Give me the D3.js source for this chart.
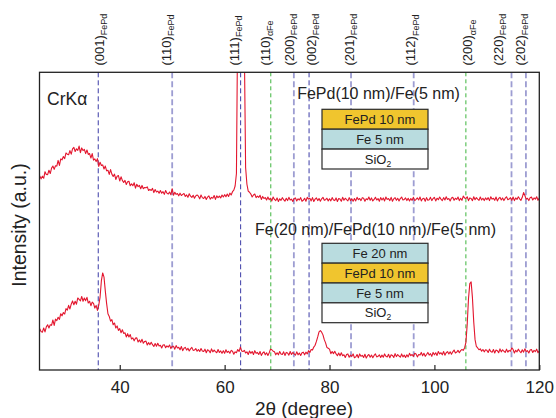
<!DOCTYPE html>
<html><head><meta charset="utf-8">
<script src="https://cdn.jsdelivr.net/npm/d3@7"></script>
<style>
body{margin:0;background:#fff;}
svg{display:block;font-family:"Liberation Sans",Arial,Helvetica,sans-serif;}
</style>
</head><body>
<svg id="chart" width="556" height="418"></svg>
<script>
// ---------- DATA ----------
const scanStart = 24.75;   // first 2θ of the scan (degree)
const scanStep = 0.25;     // 2θ step of the scan (degree)

// FePd(10 nm)/Fe(5 nm) — intensity, a.u. (offset trace)
const topValues = [
 65.2,64.2,65.1,64.4,66.6,65.7,65.6,67.1,66.0,67.8,68.5,67.4,68.6,68.5,70.4,68.7,70.9,70.6,71.7,71.0,72.9,
 72.5,72.3,73.7,72.5,74.3,74.8,73.4,74.3,73.8,75.2,73.0,74.6,73.7,74.1,72.7,73.9,72.4,72.7,71.2,72.7,
 70.5,70.9,70.0,71.0,68.4,69.8,68.7,68.9,67.5,68.5,66.9,67.1,65.7,67.3,65.8,65.0,65.8,64.0,65.1,65.3,
 63.5,64.9,63.7,63.0,63.7,62.3,63.2,63.4,61.9,62.5,61.9,62.9,61.1,62.4,61.6,62.0,60.9,62.0,60.9,61.3,
 61.2,61.5,60.3,60.7,60.3,61.0,59.6,60.6,59.8,60.1,59.4,60.3,59.4,59.9,59.0,60.3,59.4,59.1,59.8,58.9,
 60.9,58.7,59.7,59.0,59.3,58.5,59.4,58.6,59.0,59.3,58.3,58.8,58.0,59.2,58.4,58.0,58.7,57.7,58.5,58.8,
 58.4,57.5,58.8,57.9,57.6,58.3,57.3,58.1,58.5,57.4,58.0,57.7,58.6,57.3,58.5,57.9,58.4,57.8,58.8,58.1,
 58.9,58.2,59.1,58.3,59.4,58.8,59.9,60.4,61.8,66.0,120,200,212,203,168,110,68.0,62.4,60.1,59.7,
 59.1,58.1,58.8,59.1,57.9,58.4,58.0,58.7,57.3,58.3,57.6,57.9,57.1,58.1,57.2,57.7,56.8,58.1,57.3,56.9,
 57.8,56.6,57.5,57.0,57.9,57.2,56.7,57.7,56.9,58.0,57.1,57.4,56.6,57.6,57.8,56.8,57.5,57.1,57.9,56.7,
 57.0,57.7,56.7,58.0,57.4,57.7,56.8,57.9,56.6,57.4,57.8,56.9,57.6,56.7,57.5,58.0,57.0,57.2,57.7,56.8,
 57.5,56.8,57.9,57.1,56.9,57.8,56.6,57.6,57.4,56.7,58.0,57.0,57.7,57.2,56.8,57.9,56.9,57.5,56.7,57.6,
 56.8,58.0,57.2,57.6,56.9,57.9,57.7,56.7,57.5,57.2,58.1,57.0,57.8,56.8,57.3,58.0,57.1,57.6,56.7,57.9,
 57.1,57.8,56.8,58.1,57.3,57.6,56.9,58.0,56.7,57.5,57.9,57.0,57.7,56.8,57.6,58.1,57.1,57.3,57.8,56.9,
 57.7,56.8,57.6,57.0,58.0,56.9,57.3,57.8,57.1,58.1,56.8,57.5,57.7,56.7,57.9,57.0,57.2,58.0,56.9,57.6,
 58.0,56.8,57.7,57.2,58.1,57.4,56.9,57.9,57.1,58.2,57.3,57.6,56.8,57.8,58.0,57.0,57.7,57.3,58.1,56.9,
 57.7,57.0,58.4,57.8,57.6,58.2,56.9,57.8,57.6,56.9,58.2,57.2,57.9,57.4,57.0,58.1,57.1,57.7,56.9,57.8,
 57.2,57.9,56.9,58.2,57.4,57.7,57.0,58.1,56.8,57.6,58.0,57.1,57.8,56.9,57.7,58.2,57.2,57.4,57.9,57.0,
 58.1,56.9,57.8,57.3,58.2,57.5,57.0,58.0,59.6,58.6,57.4,57.7,56.9,57.9,58.1,57.1,57.8,57.4,58.2,57.0,
 57.8
];

// Fe(20 nm)/FePd(10 nm)/Fe(5 nm) — intensity, a.u.
const bottomValues = [
 13.9,12.9,12.7,14.1,12.8,14.5,15.2,14.1,15.2,15.0,16.8,15.0,17.1,16.6,17.7,17.0,18.9,18.2,19.3,18.8,20.6,
 20.1,21.7,20.5,22.1,23.2,21.9,23.1,22.1,24.2,23.7,23.2,24.7,23.1,24.2,23.3,24.4,22.5,23.1,21.6,22.8,
 22.4,20.8,21.7,20.0,21.8,24.5,30.0,32.6,31.2,26.5,22.3,18.9,18.0,16.4,16.9,15.2,15.8,14.1,14.8,13.3,
 13.9,12.5,13.5,12.3,12.5,11.1,12.2,11.1,11.9,10.4,10.8,9.8,10.7,10.8,9.4,10.1,9.3,10.3,9.0,9.6,
 9.7,8.4,9.2,8.5,9.3,8.5,7.9,8.9,8.0,9.0,8.1,8.3,7.4,8.4,8.5,7.5,8.1,7.7,8.4,7.2,
 8.0,8.0,7.0,8.2,7.4,7.6,6.8,7.9,6.5,7.3,7.6,6.7,7.3,6.4,7.1,7.6,6.6,6.7,7.2,6.3,
 6.9,6.2,7.2,6.4,6.2,7.0,5.8,6.8,6.5,5.8,7.1,6.1,6.7,6.2,5.8,6.9,5.9,6.4,5.6,6.5,
 5.6,6.8,5.9,6.3,5.6,6.6,6.3,5.3,6.1,5.8,6.9,6.2,7.7,6.4,6.2,6.6,5.7,6.1,5.2,6.4,
 5.6,6.2,5.2,6.5,5.6,5.9,5.2,6.2,4.9,5.7,6.1,5.1,5.8,4.9,5.8,7.0,6.8,6.3,6.1,5.1,
 5.8,5.1,6.2,5.4,5.2,6.1,4.9,5.9,5.7,5.0,6.2,5.2,5.9,5.4,5.0,6.1,5.1,5.7,4.9,5.8,
 6.0,5.1,6.0,5.4,6.5,5.9,6.9,6.7,7.7,8.3,9.6,11.1,12.8,13.2,12.7,11.8,10.2,9.1,7.6,7.3,
 7.0,5.5,6.2,5.5,6.3,5.4,4.8,5.7,4.8,5.8,4.8,5.1,4.2,5.2,5.4,4.3,5.0,4.6,5.4,4.1,
 4.4,5.2,4.1,5.4,4.6,4.9,4.2,5.3,4.0,4.8,5.2,4.3,5.0,4.1,4.9,5.4,4.4,4.6,5.1,4.2,
 5.0,4.3,5.4,4.6,4.4,5.3,4.1,5.1,4.9,4.2,5.5,4.5,5.2,4.7,4.3,5.4,4.4,5.0,4.2,5.1,
 4.4,5.6,4.8,5.2,4.6,5.6,5.4,4.4,5.2,5.0,5.9,4.8,5.6,4.6,5.2,5.9,5.0,5.5,4.6,5.9,
 5.1,5.8,4.9,6.2,5.4,5.8,5.1,6.2,5.0,5.8,6.2,5.4,6.1,5.3,6.1,6.7,5.7,6.0,6.6,5.8,
 6.5,6.9,6.6,7.4,9.2,15.2,24.0,29.0,29.6,24.3,16.1,10.2,7.9,7.4,6.8,7.1,6.3,6.9,6.1,6.8,
 6.6,5.9,7.0,6.2,6.0,6.9,5.7,6.7,6.5,5.8,7.1,6.1,6.8,6.3,5.9,7.0,6.0,6.6,6.3,7.4,
 6.9,5.7,6.6,6.1,7.0,6.3,5.8,6.8,6.0,7.1,6.2,6.5,5.7,6.7,6.9,5.9,6.6,6.2,7.0,5.8,
 6.4
];

// Reference reflections
const refIndex   = ["(001)","(110)","(111)","(110)","(200)","(002)","(201)","(112)","(200)","(220)","(202)"];
const refPhase   = ["FePd","FePd","FePd","αFe","FePd","FePd","FePd","FePd","αFe","FePd","FePd"];
const refTheta   = [35.9, 50.0, 63.05, 68.8, 73.2, 76.1, 84.1, 96.05, 106.0, 114.7, 117.45];
const refKind    = ["dark","light","dark","green","light","dark","light","light","green","light","light"];
const labelTheta = [36.33, 49.01, 61.97, 67.88, 72.55, 76.65, 84.0, 95.66, 106.53, 112.4, 116.56];

const xTicks = [40, 60, 80, 100, 120];
const xDomain = [24.7, 120];
const yDomain = [0, 100];

const stack1Names = ["FePd 10 nm", "Fe 5 nm", "SiO"];
const stack1Mats  = ["FePd", "Fe", "SiO2"];
const stack2Names = ["Fe 20 nm", "FePd 10 nm", "Fe 5 nm", "SiO"];
const stack2Mats  = ["Fe", "FePd", "Fe", "SiO2"];
const sample1Title = "FePd(10 nm)/Fe(5 nm)";
const sample2Title = "Fe(20 nm)/FePd(10 nm)/Fe(5 nm)";

// ---------- DRAW ----------
const svg = d3.select("#chart");
const L = 39.5, R = 539.3, T = 72.3, B = 370;
const x = d3.scaleLinear().domain(xDomain).range([L, R]);
const y = d3.scaleLinear().domain(yDomain).range([B, T]);
const ink = "#222";

svg.append("defs").append("clipPath").attr("id","plotclip")
  .append("rect").attr("x",L).attr("y",T).attr("width",R-L).attr("height",B-T);

// reference lines
const kindStyle = {
  dark:  {stroke:"#3b3ba6", width:1.0, dash:"5,3"},
  light: {stroke:"#9d9dd2", width:1.8, dash:"6,3"},
  green: {stroke:"#3cb43c", width:1.0, dash:"4,3"}
};
svg.append("g").selectAll("line").data(refTheta).join("line")
  .attr("x1", d=>x(d)).attr("x2", d=>x(d))
  .attr("y1", T).attr("y2", B)
  .attr("stroke", (d,i)=>kindStyle[refKind[i]].stroke)
  .attr("stroke-width", (d,i)=>kindStyle[refKind[i]].width)
  .attr("stroke-dasharray", (d,i)=>kindStyle[refKind[i]].dash);

// traces
const line = d3.line().x((d,i)=>x(scanStart + i*scanStep)).y(d=>y(d));
const traces = svg.append("g").attr("clip-path","url(#plotclip)");
[topValues, bottomValues].forEach(vals=>{
  traces.append("path").attr("d", line(vals))
    .attr("fill","none").attr("stroke","#e3162e").attr("stroke-width",1.1)
    .attr("stroke-linejoin","round");
});

// frame
svg.append("rect").attr("x",L).attr("y",T).attr("width",R-L).attr("height",B-T)
  .attr("fill","none").attr("stroke",ink).attr("stroke-width",1.3);

// x axis
const xAxis = svg.append("g").attr("transform",`translate(0,${B})`)
  .call(d3.axisBottom(x).tickValues(xTicks).tickSize(-5).tickPadding(11).tickFormat(d3.format("d")));
xAxis.select(".domain").remove();
xAxis.selectAll(".tick line").attr("stroke",ink).attr("stroke-width",1.2);
xAxis.selectAll(".tick text").attr("fill",ink).attr("font-size",17).attr("font-family",null);

// axis titles
svg.append("text").attr("x",304).attr("y",414.5).attr("text-anchor","middle")
  .attr("font-size",19).attr("fill",ink).text("2θ (degree)");
svg.append("text").attr("transform","translate(26,225) rotate(-90)").attr("text-anchor","middle")
  .attr("font-size",19.5).attr("fill",ink).text("Intensity (a.u.)");

// reflection labels
const lab = svg.append("g").selectAll("text").data(refIndex).join("text")
  .attr("transform",(d,i)=>`translate(${x(labelTheta[i])},65.5) rotate(-90)`)
  .attr("y","0.28em").attr("font-size",13).attr("fill",ink);
lab.append("tspan").text(d=>d);
lab.append("tspan").attr("dy",3.3).attr("font-size",9).text((d,i)=>refPhase[i]);

// CrKα
svg.append("text").attr("x",47).attr("y",105).attr("font-size",17.5).attr("fill",ink).text("CrKα");

// sample titles
svg.append("text").attr("x",378.5).attr("y",99.3).attr("text-anchor","middle")
  .attr("font-size",16).attr("fill",ink).text(sample1Title);
svg.append("text").attr("x",375.5).attr("y",235).attr("text-anchor","middle")
  .attr("font-size",16).attr("fill",ink).text(sample2Title);

// layer stacks
const matFill = {FePd:"#f0c52e", Fe:"#b9dcdf", SiO2:"#ffffff"};
function drawStack(names, mats, x0, y0, w, h){
  const g = svg.append("g");
  names.forEach((nm,i)=>{
    g.append("rect").attr("x",x0).attr("y",y0+i*h).attr("width",w).attr("height",h)
      .attr("fill",matFill[mats[i]]).attr("stroke","#2a2a2a").attr("stroke-width",1.2);
    const t = g.append("text").attr("x", mats[i]==="SiO2" ? x0+w/2+3 : x0+w/2+5)
      .attr("y",y0+i*h+h/2+4.6).attr("text-anchor","middle")
      .attr("font-size",13).attr("fill",ink);
    t.append("tspan").text(nm);
    if (mats[i]==="SiO2") t.append("tspan").attr("dy",3).attr("font-size",8.5).text("2");
  });
}
drawStack(stack1Names, stack1Mats, 322, 109.3, 106, 19.9);
drawStack(stack2Names, stack2Mats, 322, 243.3, 106, 19.85);
</script>
</body></html>
